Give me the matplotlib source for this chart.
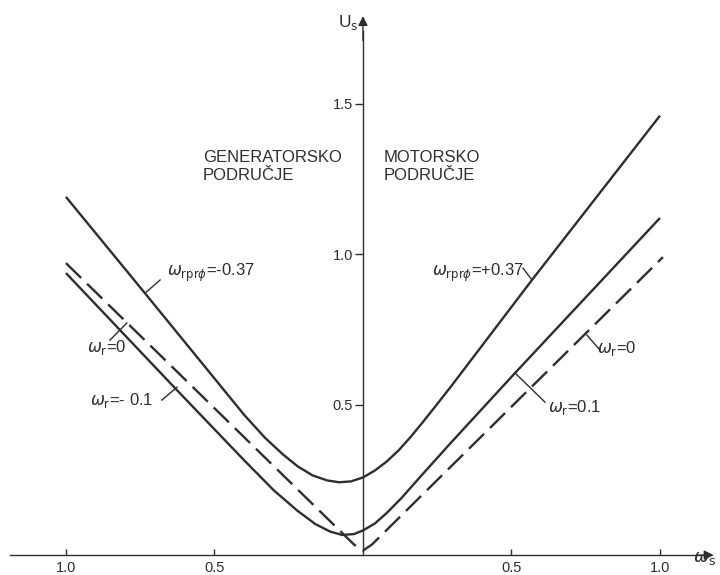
import numpy as np
import matplotlib.pyplot as plt

# curves (omega_s, U_s)
ws_pr = [-1.0, -0.734, -0.5, -0.4, -0.33, -0.27, -0.22, -0.17, -0.12, -0.08, -0.04, 0.0,
         0.04, 0.08, 0.12, 0.16, 0.2, 0.25, 0.3, 0.569, 1.0]
us_pr = [1.19, 0.87, 0.587, 0.466, 0.39, 0.335, 0.295, 0.265, 0.248, 0.242, 0.245, 0.258,
         0.281, 0.311, 0.348, 0.392, 0.44, 0.502, 0.565, 0.914, 1.46]

ws_01 = [-1.0, -0.633, -0.4, -0.3, -0.22, -0.16, -0.11, -0.07, -0.03, 0.0, 0.04, 0.08, 0.13, 0.2, 0.293, 0.512, 1.0]
us_01 = [0.937, 0.555, 0.315, 0.215, 0.147, 0.103, 0.078, 0.067, 0.07, 0.082, 0.105, 0.14, 0.19, 0.268, 0.37, 0.605, 1.12]

ws_0 = [-1.0, -0.03, 0.0, 0.03, 1.01]
us_0 = [0.97, 0.035, 0.015, 0.035, 0.99]

xtick_pos = [-1.0, -0.5, 0.5, 1.0]
xtick_lab = ["1.0", "0.5", "0.5", "1.0"]
ytick_pos = [0.5, 1.0, 1.5]
ytick_lab = ["0.5", "1.0", "1.5"]

ink = "#2e2e2e"
plt.rcParams['font.family'] = ['Liberation Sans', 'DejaVu Sans']
plt.rcParams['mathtext.fontset'] = 'dejavusans'

fig = plt.figure(figsize=(7.2, 5.75), dpi=100)
ax = fig.add_axes([0, 0, 1, 1])
ax.set_xlim(-1.222, 1.202)
ax.set_ylim(-0.066, 1.844)

ax.spines['top'].set_visible(False)
ax.spines['right'].set_visible(False)
ax.spines['bottom'].set_position(('data', 0))
ax.spines['left'].set_position(('data', 0))
ax.spines['bottom'].set_bounds(-1.19, 1.16)
ax.spines['left'].set_bounds(0, 1.74)
for s in ['bottom', 'left']:
    ax.spines[s].set_color(ink)
    ax.spines[s].set_linewidth(1.0)

ax.set_xticks(xtick_pos, xtick_lab)
ax.set_yticks(ytick_pos, ytick_lab)
ax.tick_params(axis='x', direction='in', length=4, width=1, color=ink, labelsize=10.5, pad=4, labelcolor=ink)
ax.tick_params(axis='y', direction='out', length=6, width=1, color=ink, labelsize=10.5, pad=1, labelcolor=ink)

# arrow heads
ax.annotate('', xy=(1.19, 0), xytext=(1.12, 0),
            arrowprops=dict(arrowstyle='-|>', color=ink, lw=1.0, mutation_scale=14))
ax.annotate('', xy=(0, 1.80), xytext=(0, 1.70),
            arrowprops=dict(arrowstyle='-|>', color=ink, lw=1.0, mutation_scale=14))

lw = 1.7
ax.plot(ws_pr, us_pr, color=ink, lw=lw, solid_capstyle='butt')
ax.plot(ws_01, us_01, color=ink, lw=lw, solid_capstyle='butt')
ax.plot(ws_0, us_0, color=ink, lw=lw, dashes=(9, 3.5))

ax.text(-0.085, 1.77, r'U$_\mathrm{s}$', fontsize=12.5, color=ink, va='center', ha='left')
ax.text(1.11, -0.01, r'$\omega_\mathrm{s}$', fontsize=13, color=ink, va='center', ha='left')

ax.text(-0.539, 1.345, "GENERATORSKO\nPODRUČJE", fontsize=12, color=ink, va='top', ha='left', linespacing=1.2)
ax.text(0.07, 1.345, "MOTORSKO\nPODRUČJE", fontsize=12, color=ink, va='top', ha='left', linespacing=1.2)

labels = [
    (r'$\omega_{\mathrm{rpr}\phi}$=-0.37', (-0.66, 0.937), (-0.734, 0.870), (-0.683, 0.914)),
    (r'$\omega_\mathrm{r}$=0', (-0.929, 0.691), (-0.795, 0.771), (-0.852, 0.714)),
    (r'$\omega_\mathrm{r}$=- 0.1', (-0.919, 0.515), (-0.626, 0.558), (-0.677, 0.515)),
    (r'$\omega_{\mathrm{rpr}\phi}$=+0.37', (0.232, 0.937), (0.569, 0.914), (0.539, 0.953)),
    (r'$\omega_\mathrm{r}$=0', (0.788, 0.688), (0.754, 0.731), (0.798, 0.681)),
    (r'$\omega_\mathrm{r}$=0.1', (0.623, 0.492), (0.512, 0.605), (0.613, 0.508)),
]
for txt, pos, p0, p1 in labels:
    ax.text(pos[0], pos[1], txt, fontsize=12, color=ink, va='center', ha='left')
    ax.plot([p0[0], p1[0]], [p0[1], p1[1]], color=ink, lw=1.0)

fig.savefig("out.png", dpi=100)
